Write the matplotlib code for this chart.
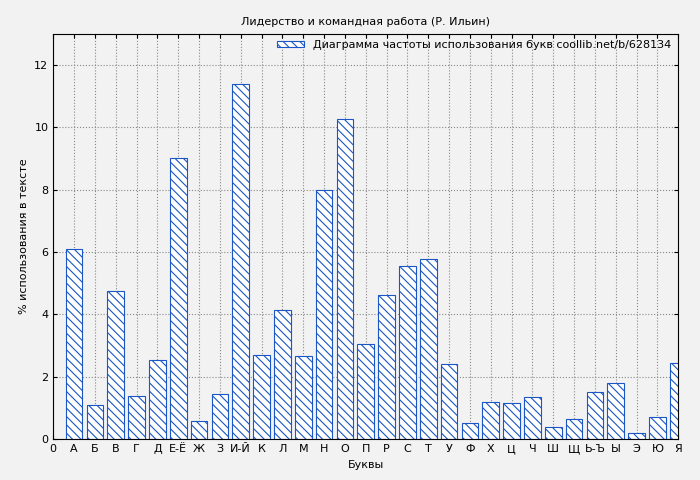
import matplotlib
matplotlib.use("Agg")
import matplotlib.pyplot as plt

labels = ["0","А","Б","В","Г","Д","Е-Ё","Ж","З","И-Й","К","Л","М","Н","О","П","Р","С","Т","У","Ф","Х","Ц","Ч","Ш","Щ","Ь-Ъ","Ы","Э","Ю","Я"]
values = [6.11,1.09,4.74,1.38,2.53,9.02,0.58,1.44,11.39,2.69,4.13,2.66,8.0,10.27,3.04,4.61,5.54,5.76,2.4,0.51,1.18,1.15,1.34,0.38,0.64,1.5,1.79,0.19,0.7,2.43]

plt.rcParams['hatch.color'] = '#1a56c4'
plt.rcParams['hatch.linewidth'] = 0.8
fig = plt.figure(figsize=(7,4.8), dpi=100, facecolor='#f2f2f2')
ax = fig.add_axes([0.076, 0.085, 0.893, 0.845])
ax.set_facecolor('#f2f2f2')
x = list(range(1, len(values)+1))
ax.bar(x, values, width=0.8, facecolor='white', edgecolor='#1a56c4', hatch='\\\\\\\\', linewidth=0.8,
       label='Диаграмма частоты использования букв coollib.net/b/628134', zorder=2)
ax.set_xlim(0, 30)
ax.set_ylim(0, 13)
ax.set_xticks(range(0, 31))
ax.set_xticklabels(labels, fontsize=8)
ax.set_yticks(range(0, 13, 2))
ax.tick_params(axis='y', labelsize=8)
ax.tick_params(direction='in', top=True, right=True, length=3)
ax.grid(True, color='#888888', linestyle=':', linewidth=0.8, zorder=0)
ax.set_axisbelow(True)
ax.set_xlabel('Буквы', fontsize=8)
ax.set_ylabel('% использования в тексте', fontsize=8)
ax.set_title('Лидерство и командная работа (Р. Ильин)', fontsize=8)
ax.legend(loc='upper right', fontsize=8, frameon=False, handlelength=2.5, handleheight=0.5, borderaxespad=0.2)
fig.savefig('out.png', dpi=100, facecolor=fig.get_facecolor())
